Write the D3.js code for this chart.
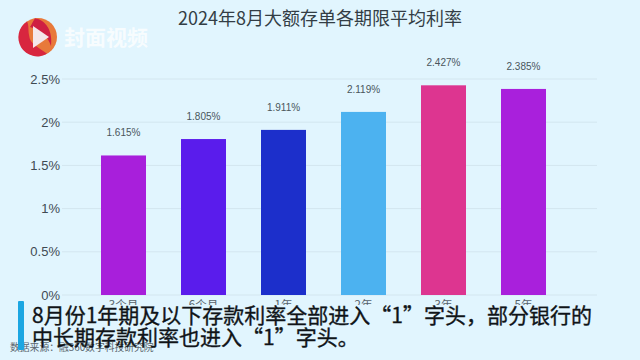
<!DOCTYPE html>
<html>
<head>
<meta charset="utf-8">
<script src="https://cdn.jsdelivr.net/npm/d3@7"></script>
<style>
html, body { margin: 0; padding: 0; background: #e1f5fe; overflow: hidden; }
svg { display: block; }
</style>
</head>
<body>
<svg id="viz"></svg>
<script>
var width = 640;
var height = 360;

var categories = ["3个月", "6个月", "1年", "2年", "3年", "5年"];
var rates = [1.615, 1.805, 1.911, 2.119, 2.427, 2.385];
var barColors = ["#a81fdb", "#5a1cec", "#1c2fcb", "#4cb2f0", "#dd3590", "#a920dc"];
var yTicks = [0, 0.5, 1, 1.5, 2, 2.5];
var yTickLabels = ["0%", "0.5%", "1%", "1.5%", "2%", "2.5%"];

var titleText = "2024年8月大额存单各期限平均利率";
var captionLines = ["8月份1年期及以下存款利率全部进入“1”字头，部分银行的", "中长期存款利率也进入“1”字头。"];
var sourceText = "数据来源：融360数字科技研究院";
var logoText = "封面视频";

var sans = "'Noto Sans CJK SC', 'Noto Sans', sans-serif";
var bg = "#e1f5fe";

var svg = d3.select("#viz")
    .attr("width", width)
    .attr("height", height);

var x = d3.scaleBand()
    .domain(categories)
    .range([83.5, 563.5])
    .paddingInner(0.4375)
    .paddingOuter(0.21875);

var y = d3.scaleLinear()
    .domain([0, 2.5])
    .range([295, 79]);

//gridlines
svg.selectAll(".grid")
    .data(yTicks)
    .enter().append("line")
    .attr("class", "grid")
    .attr("x1", 62)
    .attr("x2", 597)
    .attr("y1", function (d) { return y(d); })
    .attr("y2", function (d) { return y(d); })
    .style("stroke", "#d3e6ef")
    .style("stroke-width", 1);

//y labels
svg.selectAll(".ylabel")
    .data(yTicks)
    .enter().append("text")
    .attr("class", "ylabel")
    .attr("x", 60)
    .attr("y", function (d) { return y(d); })
    .attr("dy", "0.36em")
    .attr("text-anchor", "end")
    .style("font-family", "'Liberation Sans', sans-serif")
    .style("font-size", "13px")
    .style("fill", "#3f4a52")
    .text(function (d, i) { return yTickLabels[i]; });

//bars
svg.selectAll(".bar")
    .data(rates)
    .enter().append("rect")
    .attr("class", "bar")
    .attr("x", function (d, i) { return x(categories[i]); })
    .attr("width", x.bandwidth())
    .attr("y", function (d) { return y(d); })
    .attr("height", function (d) { return y(0) - y(d); })
    .style("fill", function (d, i) { return barColors[i]; });

//value labels
svg.selectAll(".value")
    .data(rates)
    .enter().append("text")
    .attr("class", "value")
    .attr("x", function (d, i) { return x(categories[i]) + x.bandwidth() / 2; })
    .attr("y", function (d) { return y(d) - 19; })
    .attr("text-anchor", "middle")
    .style("font-family", "'Liberation Sans', sans-serif")
    .style("font-size", "10px")
    .style("fill", "#4a555c")
    .text(function (d) { return d + "%"; });

//category labels, the caption covers most of them
svg.selectAll(".cat")
    .data(categories)
    .enter().append("text")
    .attr("class", "cat")
    .attr("x", function (d) { return x(d) + x.bandwidth() / 2; })
    .attr("y", 309)
    .attr("text-anchor", "middle")
    .style("font-family", sans)
    .style("font-size", "11.5px")
    .style("fill", "#56626a")
    .text(function (d) { return d; });

svg.append("rect")
    .attr("x", 26)
    .attr("y", 305)
    .attr("width", 570)
    .attr("height", 40)
    .style("fill", bg);

//title
svg.append("text")
    .attr("x", 320)
    .attr("y", 25)
    .attr("text-anchor", "middle")
    .style("font-family", sans)
    .style("font-size", "18px")
    .style("fill", "#333d45")
    .text(titleText);

//logo
var logo = svg.append("g").attr("transform", "translate(38,37)");
logo.append("circle").attr("r", 19).style("fill", "#e8793a");
logo.append("path")
    .attr("d", "M-11,-15.5 A19,19 0 0 0 9,16.8 C1,10 -8,8 -9,-2 C-10,-8 -9,-12 -11,-15.5 Z")
    .style("fill", "#d8263f");
logo.append("path")
    .attr("d", "M-3,-18.8 C8,-17 15,-6 13,9 C10,0 4,-6 -8,-10 C-6,-13 -5,-16 -3,-18.8 Z")
    .style("fill", "#cf1f42");
logo.append("path")
    .attr("d", "M-5,-11 L11,0 L-5,11 Z")
    .style("fill", "#f4e6ea");
svg.append("text")
    .attr("x", 64)
    .attr("y", 45)
    .style("font-family", "'Noto Sans CJK SC', serif")
    .style("font-weight", "700")
    .style("font-size", "21px")
    .style("fill", "#ffffff")
    .style("opacity", 0.75)
    .text(logoText);

//source
svg.append("text")
    .attr("x", 10)
    .attr("y", 351)
    .style("font-family", sans)
    .style("font-size", "9.8px")
    .style("fill", "#5a666e")
    .text(sourceText);

//caption bar and text
svg.append("rect")
    .attr("x", 18)
    .attr("y", 301)
    .attr("width", 6)
    .attr("height", 49)
    .attr("rx", 1)
    .style("fill", "#1ba6e2");

svg.selectAll(".caption")
    .data(captionLines)
    .enter().append("text")
    .attr("class", "caption")
    .attr("x", 32)
    .attr("y", function (d, i) { return 322.5 + i * 22; })
    .style("font-family", sans)
    .style("font-size", "21px")
    .style("fill", "#101418")
    .style("stroke", "#101418")
    .style("stroke-width", 0.35)
    .text(function (d) { return d; });
</script>
</body>
</html>
